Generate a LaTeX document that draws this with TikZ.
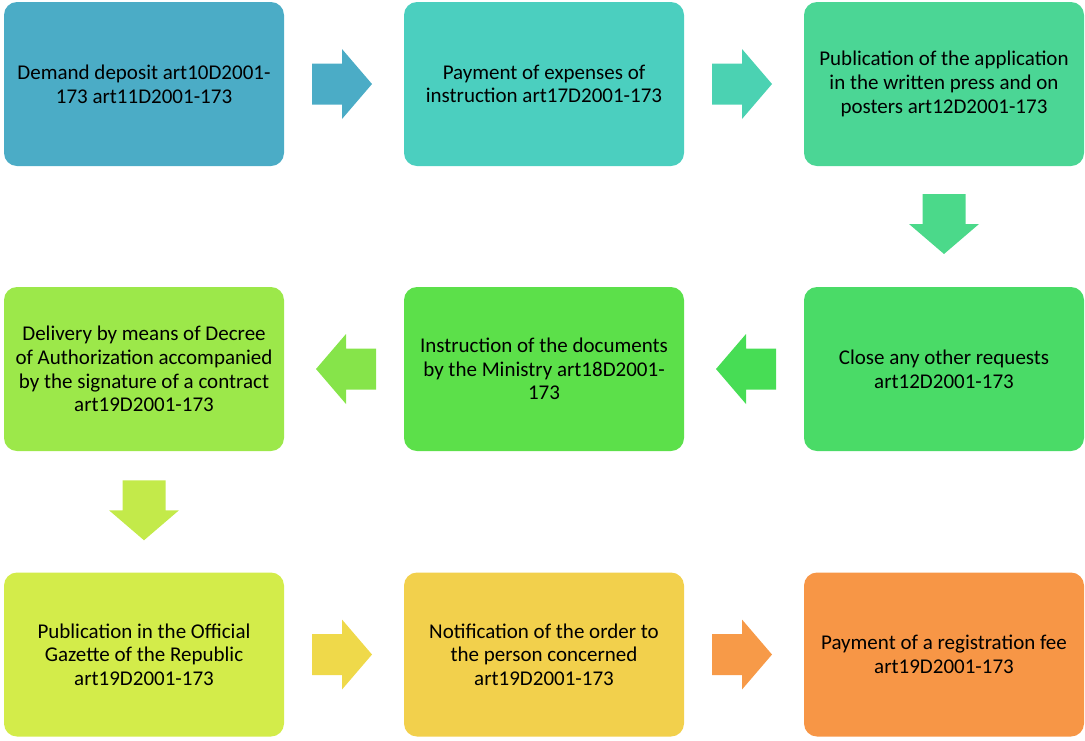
\documentclass[tikz,border=0pt]{standalone}
\usepackage{fontspec}
\setmainfont{Carlito}
\usetikzlibrary{calc}
\definecolor{c1}{HTML}{4BACC6}
\definecolor{c2}{HTML}{4BCFBF}
\definecolor{c3}{HTML}{4BD695}
\definecolor{c4}{HTML}{4ADB67}
\definecolor{c5}{HTML}{5CE04A}
\definecolor{c6}{HTML}{9CE84A}
\definecolor{c7}{HTML}{D3EC4A}
\definecolor{c8}{HTML}{F2D04C}
\definecolor{c9}{HTML}{F79646}
\definecolor{a2}{HTML}{4BD2B2}
\definecolor{a3}{HTML}{4BD98A}
\definecolor{a4}{HTML}{47DD55}
\definecolor{a5}{HTML}{86E44A}
\definecolor{a6}{HTML}{C3EA4A}
\definecolor{a7}{HTML}{EFD94A}
\definecolor{a8}{HTML}{F79A48}
\tikzset{
  stepbox/.style={rounded corners=13pt, minimum width=280pt, minimum height=164pt,
    inner sep=0pt, align=center, font=\fontsize{21}{23.7}\selectfont, text=black},
  pics/rarrow/.style={code={\fill[#1] (-30,-20.5) -- (0,-20.5) -- (0,-35) -- (30,0) -- (0,35) -- (0,20.5) -- (-30,20.5) -- cycle;}},
  pics/larrow/.style={code={\fill[#1] (30,-20.5) -- (0,-20.5) -- (0,-35) -- (-30,0) -- (0,35) -- (0,20.5) -- (30,20.5) -- cycle;}},
  pics/darrow/.style={code={\fill[#1] (-21.5,-30) -- (-21.5,0) -- (-35,0) -- (0,30) -- (35,0) -- (21.5,0) -- (21.5,-30) -- cycle;}},
}
\begin{document}
\begin{tikzpicture}[x=1pt,y=-1pt]
\useasboundingbox (0,0) rectangle (1085,740);
\node[stepbox, fill=c1] (b1) at (144,84) {Demand deposit art10D2001-\\173 art11D2001-173};
\node[stepbox, fill=c2] (b2) at (544,84) {Payment of expenses of\\instruction art17D2001-173};
\node[stepbox, fill=c3] (b3) at (944,84) {Publication of the application\\in the written press and on\\posters art12D2001-173};
\node[stepbox, fill=c4] (b4) at (944,369) {Close any other requests\\art12D2001-173};
\node[stepbox, fill=c5] (b5) at (544,369) {Instruction of the documents\\by the Ministry art18D2001-\\173};
\node[stepbox, fill=c6] (b6) at (144,369) {Delivery by means of Decree\\of Authorization accompanied\\by the signature of a contract\\art19D2001-173};
\node[stepbox, fill=c7] (b7) at (144,654.5) {Publication in the Official\\Gazette of the Republic\\art19D2001-173};
\node[stepbox, fill=c8] (b8) at (544,654.5) {Notification of the order to\\the person concerned\\art19D2001-173};
\node[stepbox, fill=c9] (b9) at (944,654.5) {Payment of a registration fee\\art19D2001-173};
\pic at ($(b1.east)!0.5!(b2.west)+(-2,0)$) {rarrow=c1};
\pic at ($(b2.east)!0.5!(b3.west)+(-2,0)$) {rarrow=a2};
\pic at ($(b3.south)!0.5!(b4.north)+(0,-2.5)$) {darrow=a3};
\pic at ($(b4.west)!0.5!(b5.east)+(2,0)$) {larrow=a4};
\pic at ($(b5.west)!0.5!(b6.east)+(2,0)$) {larrow=a5};
\pic at ($(b6.south)!0.5!(b7.north)+(0,-1.5)$) {darrow=a6};
\pic at ($(b7.east)!0.5!(b8.west)+(-2,0)$) {rarrow=a7};
\pic at ($(b8.east)!0.5!(b9.west)+(-2,0)$) {rarrow=a8};
\end{tikzpicture}
\end{document}
